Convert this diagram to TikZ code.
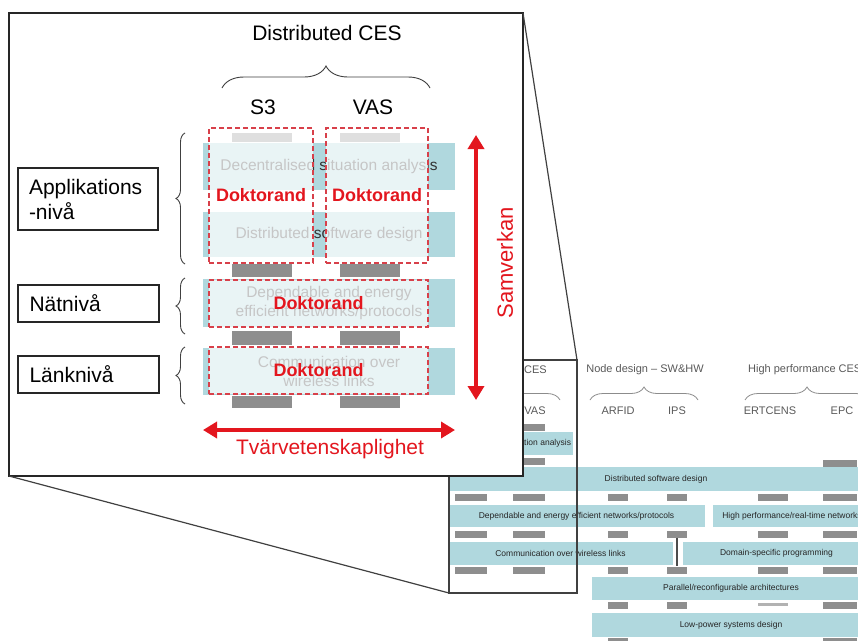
\documentclass[tikz,border=0pt]{standalone}
\usepackage{fontspec}
\setmainfont{Liberation Sans}
\usetikzlibrary{arrows.meta,decorations.pathreplacing}
\definecolor{cteal}{HTML}{B0D8DE}
\definecolor{cbar}{HTML}{8E8E8E}
\definecolor{cred}{HTML}{E3161E}
\definecolor{cdash}{HTML}{D8404A}
\tikzset{
  wh/.style 2 args = {minimum width=#1pt, minimum height=#2pt},
  band/.style   = {fill=cteal, inner sep=0pt, text=black!85,
                   font=\fontsize{8.5}{10}\selectfont},
  gbar/.style   = {fill=cbar, inner sep=0pt, minimum height=7pt},
  bghead/.style = {text=black!65, inner sep=0pt, font=\fontsize{11}{13}\selectfont},
  bgbrace/.style= {draw=black!45, line width=0.8pt, decorate,
                   decoration={brace,amplitude=13pt}},
  zoomwin/.style= {draw=black!75, line width=1.2pt, inner sep=0pt, outer sep=0pt},
  inset/.style  = {draw=black!85, fill=white, line width=1.6pt, inner sep=0pt, outer sep=0pt},
  iband/.style  = {fill=cteal, inner sep=0pt, text=black!80, align=center,
                   font=\fontsize{15.5}{19}\selectfont},
  dbox/.style   = {draw=cdash, line width=2pt, dash pattern=on 5pt off 3pt,
                   fill=white, fill opacity=0.72, text opacity=1, inner sep=0pt,
                   text=cred, font=\bfseries\fontsize{18}{22}\selectfont},
  lvl/.style    = {draw=black!85, fill=white, line width=1.6pt, align=left,
                   text width=118pt, inner xsep=11pt, inner ysep=0pt,
                   font=\fontsize{21}{25}\selectfont},
  big/.style    = {inner sep=0pt, font=\fontsize{21}{25}\selectfont},
  ibrace/.style = {draw=black!75, line width=0.9pt, decorate},
  redarr/.style = {draw=cred, line width=4pt,
                   {Triangle[length=14pt,width=16pt]}-{Triangle[length=14pt,width=16pt]}},
}

\begin{document}
\begin{tikzpicture}[x=1pt,y=-1pt]
\useasboundingbox (0,0) rectangle (858,640);
\clip (0,0) rectangle (858,640);

% background chart
\node[bghead,anchor=east] (bgCES) at (547,370) {Distributed CES};
\node[bghead] (bgNode) at (645,370) {Node design -- SW\&HW};
\node[bghead,anchor=west] (bgHPC) at (748,370) {High performance CES};
\draw[bgbrace] (462,400) -- (560,400);
\draw[bgbrace] (590,400) -- (698,400);
\draw[bgbrace] (745,400) -- (869,400);
\node[bghead] (bgS3) at (473,411) {S3};
\node[bghead] (bgVAS) at (535,411) {VAS};
\node[bghead] (bgARFID) at (618,411) {ARFID};
\node[bghead] (bgIPS) at (677,411) {IPS};
\node[bghead] (bgERT) at (770,411) {ERTCENS};
\node[bghead] (bgEPC) at (842,411) {EPC};

\node[band,wh={123}{23}] (bSit) at (511.5,443.5) {Decentralised situation analysis};
\node[band,wh={416}{24}] (bDsd) at (656,479) {Distributed software design};
\node[band,wh={257}{22}] (bDep) at (576.5,516) {Dependable and energy efficient networks/protocols};
\node[band,wh={158}{22}] (bHpn) at (792,516) {High performance/real-time networks};
\node[band,wh={225}{23}] (bCom) at (560.5,553.5) {Communication over wireless links};
\node[band,wh={187}{23}] (bDom) at (776.5,553.5) {Domain-specific programming};
\node[band,wh={278}{23}] (bPar) at (731,588.5) {Parallel/reconfigurable architectures};
\node[band,wh={278}{24}] (bLow) at (731,625) {Low-power systems design};

\foreach \y/\r in {427/0,461/1}
  \foreach \cx/\c in {471/S3,529/VAS}
    \node[gbar,minimum width=32pt] (b\r-\c) at (\cx,\y) {};
\node[gbar,minimum width=34pt] (b1-EPC) at (840,463) {};
\foreach \y/\r in {497/2,534/3,570/4}
  \foreach \cx/\w/\c in {471/32/S3,529/32/VAS,618/20/ARFID,677/20/IPS,773/30/ERT,840/34/EPC}
    \node[gbar,minimum width=\w pt] (b\r-\c) at (\cx,\y) {};
\foreach \cx/\w/\c in {618/20/ARFID,677/20/IPS,840/34/EPC}
  \node[gbar,minimum width=\w pt] (b5-\c) at (\cx,605.5) {};
\node[gbar,fill=black!30,minimum width=30pt,minimum height=3pt] (b5-ERT) at (773,604) {};
\foreach \cx/\w/\c in {618/20/ARFID,840/34/EPC}
  \node[gbar,minimum width=\w pt] (b6-\c) at (\cx,641) {};
\draw[black!70,line width=1.2pt] (b3-IPS) -- (b4-IPS);

% zoomed region and its inset
\node[zoomwin,wh={128}{233}] (zw) at (513,476.5) {};
\node[inset,wh={514}{463}] (inset) at (266,244.5) {};
\draw[black!75,line width=1.2pt] (inset.north east) -- (zw.north east);
\draw[black!75,line width=1.2pt] (inset.south west) -- (zw.south west);

\node[iband,wh={252}{47}] (iSit) at (329,166.5) {Decentralised situation analysis};
\node[iband,wh={252}{45}] (iDsd) at (329,234.5) {Distributed software design};
\node[iband,wh={252}{48}] (iNet) at (329,303) {Dependable and energy\\efficient networks/protocols};
\node[iband,wh={252}{47}] (iLnk) at (329,371.5) {Communication over\\wireless links};
\foreach \y/\h/\r in {137.5/9/0,270/13/1,338/14/2,401.5/12/3}
  \foreach \cx/\c in {262/S3,370/VAS}
    \node[gbar,minimum width=60pt,minimum height=\h pt] (ib\r-\c) at (\cx,\y) {};

\node[dbox,wh={104}{135}] (dS3) at (261,195.5) {Doktorand};
\node[dbox,wh={102}{135}] (dVAS) at (377,195.5) {Doktorand};
\node[dbox,wh={219}{47}] (dNet) at (318.5,303.5) {Doktorand};
\node[dbox,wh={219}{47}] (dLnk) at (318.5,370.5) {Doktorand};

\node[big] (hCES) at (327,33) {Distributed CES};
\draw[ibrace,decoration={brace,amplitude=22pt}] (222,88) -- (430,88);
\node[big] (hS3) at (263,107) {S3};
\node[big] (hVAS) at (373,107) {VAS};

\node[lvl,wh={140}{62}] (lApp) at (88,199) {Applikations\\-nivå};
\node[lvl,wh={141}{37}] (lNet) at (88.5,303.5) {Nätnivå};
\node[lvl,wh={141}{37}] (lLnk) at (88.5,374.5) {Länknivå};
\draw[ibrace,decoration={brace,amplitude=9pt}] (185,264) -- (185,133);
\draw[ibrace,decoration={brace,amplitude=9pt}] (185,334) -- (185,278);
\draw[ibrace,decoration={brace,amplitude=9pt}] (185,404) -- (185,347);

\coordinate (tvL) at (203,430);
\coordinate (tvR) at (455,430);
\draw[redarr] (tvL) -- (tvR);
\node[big,text=cred] (tvLab) at (330,449) {Tvärvetenskaplighet};
\coordinate (svT) at (476,135);
\coordinate (svB) at (476,400);
\draw[redarr] (svT) -- (svB);
\node[big,text=cred,rotate=90,font=\fontsize{22}{26}\selectfont] (svLab) at (505,263) {Samverkan};
\end{tikzpicture}
\end{document}
